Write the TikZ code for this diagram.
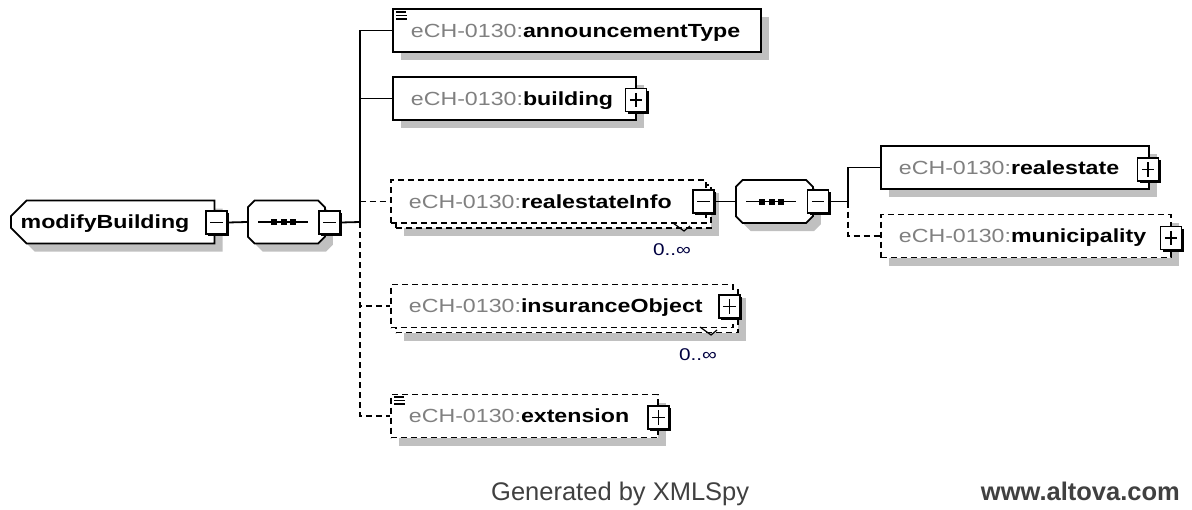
\documentclass[tikz,border=0pt]{standalone}
\usepackage{fontspec}
\setmainfont{Liberation Sans}[FakeStretch=1.22]
\newfontfamily\footfont{Liberation Sans}
\usetikzlibrary{shapes.misc,shadows}
\definecolor{boxshadow}{HTML}{C0C0C0}
\definecolor{nsgray}{HTML}{808080}
\definecolor{occblue}{HTML}{000040}
\definecolor{footgray}{HTML}{404040}
\newcommand\ech[1]{{\color{nsgray}eCH-0130:}\textbf{#1}}
\newcommand\pmbox[3]{\node[pm] (#1) at (#2,#3) {};
  \draw[line width=3.2] ([yshift=-3]#1.north east) -- (#1.south east) -- ([xshift=3]#1.south west);
  \draw[line width=1.6] ([xshift=5]#1.west) -- ([xshift=-5]#1.east);}
\newcommand\plusbox[3]{\pmbox{#1}{#2}{#3}
  \draw[line width=1.6] ([yshift=-5]#1.north) -- ([yshift=5]#1.south);}
\newcommand\seqdots[1]{\draw[line width=1.8] ([xshift=11]#1.west) -- ([xshift=61]#1.west);
  \foreach \d in {24,33.5,43} \fill ([shift={(\d,-3)}]#1.west) rectangle +(6,6);}
\newcommand\docicon[2]{\draw[line width=1.8] (#1+4,#2+3) -- ++(10,0) (#1+4,#2+6.5) -- ++(11,0) (#1+4,#2+10) -- ++(11,0);}
\newcommand\occtick[2]{\draw[line width=1.2] (#1-37,#2-5) -- (#1-26,#2+3) -- (#1-20,#2-2);}

\begin{document}
\begin{tikzpicture}[x=1pt,y=-1pt,
  base/.style={draw, line width=1.8, fill=white, minimum height=43, inner ysep=0,
    text height=13.6, text depth=0, anchor=west, font=\fontsize{19}{22}\selectfont},
  elem/.style={base, rectangle, inner xsep=18, align=left,
    general shadow={fill=boxshadow, shadow xshift=8pt, shadow yshift=-8pt}},
  elemmany/.style={base, rectangle, inner xsep=18, align=left,
    general shadow={fill=boxshadow, shadow xshift=13pt, shadow yshift=-13pt},
    copy shadow={shadow xshift=5pt, shadow yshift=-5pt, line width=1.8, dash pattern=on 6pt off 4pt}},
  global/.style={base, chamfered rectangle, chamfered rectangle corners={north west,south west},
    chamfered rectangle sep=9pt, inner xsep=3, align=left,
    general shadow={fill=boxshadow, shadow xshift=8pt, shadow yshift=-8pt}},
  seqbox/.style={base, chamfered rectangle, chamfered rectangle sep=9pt, inner xsep=0,
    general shadow={fill=boxshadow, shadow xshift=8pt, shadow yshift=-8pt}},
  pm/.style={rectangle, draw, fill=white, line width=1.5, minimum width=21, minimum height=23, inner sep=0},
  opt/.style={dash pattern=on 6pt off 4pt},
  conn/.style={line width=1.8},
  occ/.style={font=\fontsize{17}{18}\selectfont, text=occblue, inner sep=0},
  foot/.style={font=\footfont\fontsize{25.5}{28}\selectfont, text=footgray, inner sep=0}]
\useasboundingbox (0,0) rectangle (1192,509);
% root and sequence
\node[global, text width=184] (mb) at (10,222) {\textbf{modifyBuilding}};
\pmbox{mb-pm}{216.5}{222.5}
\node[seqbox, minimum width=77] (seq1) at (247,222) {};
\seqdots{seq1}
\pmbox{seq1-pm}{329.5}{222.5}
\coordinate (fork1) at (360,222);
% children
\node[elem, text width=332] (atype) at (392,30.5) {\ech{announcementType}};
\docicon{392}{9}
\node[elem, text width=207] (bldg) at (392,98.5) {\ech{building}};
\plusbox{bldg-pm}{636}{100}
\node[elemmany, opt, text width=279] (rinfo) at (390,201.5) {\ech{realestateInfo}};
\pmbox{rinfo-pm}{703.5}{201.5}
\occtick{710}{228}
\node[occ] (rinfo-occ) at (672,250) {0..∞};
\node[elemmany, opt, text width=306] (ins) at (390,306) {\ech{insuranceObject}};
\plusbox{ins-pm}{729.5}{306.5}
\occtick{737}{332}
\node[occ] (ins-occ) at (698,355) {0..∞};
\node[elem, opt, text width=231] (ext) at (390,416) {\ech{extension}};
\docicon{390}{394}
\plusbox{ext-pm}{658.5}{417.5}
% realestateInfo content
\node[seqbox, minimum width=77] (seq2) at (735,201.5) {};
\seqdots{seq2}
\pmbox{seq2-pm}{818}{201.5}
\coordinate (fork2) at (848,201.5);
\node[elem, text width=232] (rest) at (880,167.5) {\ech{realestate}};
\plusbox{rest-pm}{1148}{169.5}
\node[elem, opt, text width=254] (muni) at (880,236) {\ech{municipality}};
\plusbox{muni-pm}{1171}{238}
% connectors
\draw[conn] (mb-pm.east) -- (seq1.west);
\draw[conn] (seq1-pm.east) -- (fork1);
\draw[conn] (fork1) |- (atype.west);
\draw[conn] (fork1) |- (bldg.west);
\draw[conn, opt] (fork1) |- (rinfo.west);
\draw[conn, opt] (fork1) |- (ins.west);
\draw[conn, opt] (fork1) |- (ext.west);
\draw[conn] (rinfo-pm.east) -- (seq2.west);
\draw[conn] (seq2-pm.east) -- (fork2);
\draw[conn] (fork2) |- (rest.west);
\draw[conn, opt] (fork2) |- (muni.west);
% footer
\node[foot, anchor=base west] (gen) at (491,500) {Generated by XMLSpy};
\node[foot, anchor=base east] (web) at (1180,500) {\bfseries www.altova.com};
\end{tikzpicture}
\end{document}
